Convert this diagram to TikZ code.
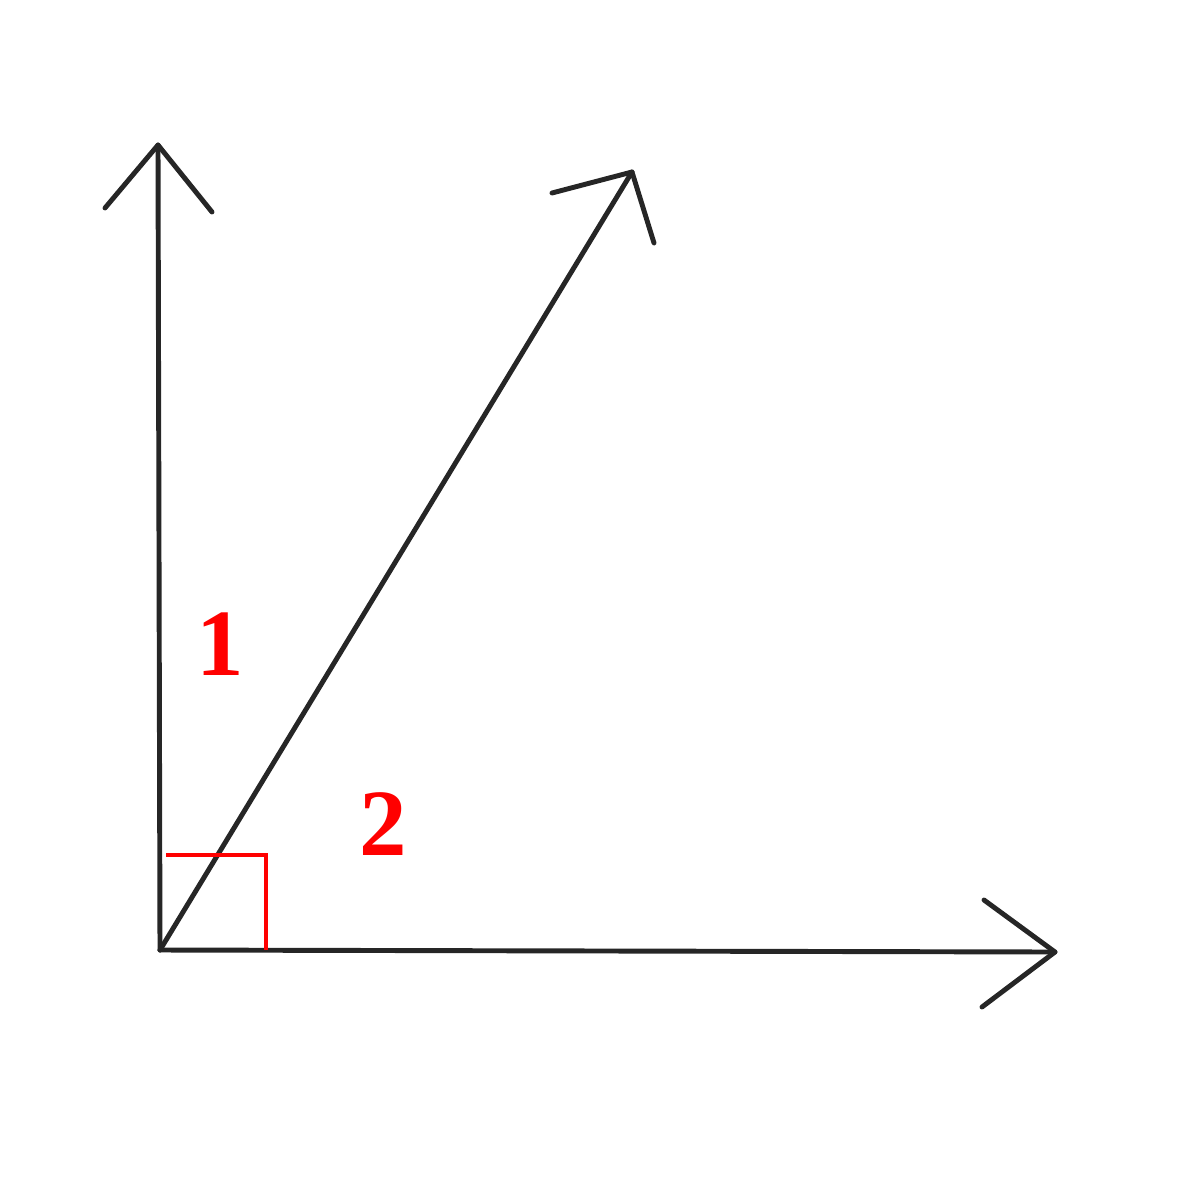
\documentclass[tikz,border=0pt]{standalone}
\usepackage{fontspec}
\setmainfont{Liberation Serif}
\begin{document}
\begin{tikzpicture}[x=0.01cm,y=-0.01cm,
  ray/.style={draw=black!85,line width=1.4pt,line cap=round,line join=round},
  mark90/.style={draw=red,line width=1.1pt},
  lbl/.style={text=red,font=\fontsize{27}{30}\selectfont\bfseries,inner sep=0pt}]
\useasboundingbox (0,0) rectangle (1200,1200);
\coordinate (O) at (160,950);
\coordinate (V) at (158,145);
\coordinate (D) at (632,172);
\coordinate (H) at (1055,952);
\draw[ray] (O) -- (V);
\draw[ray] (105,208) -- (V) -- (212,212);
\draw[ray] (O) -- (D);
\draw[ray] (552,193) -- (D) -- (654,243);
\draw[ray] (O) -- (H);
\draw[ray] (984,900) -- (H) -- (982,1007);
\draw[mark90] (166,855) -- (266,855) -- (266,950);
\node[lbl] (l1) at (220,644) {1};
\node[lbl] (l2) at (383,824) {2};
\end{tikzpicture}
\end{document}
